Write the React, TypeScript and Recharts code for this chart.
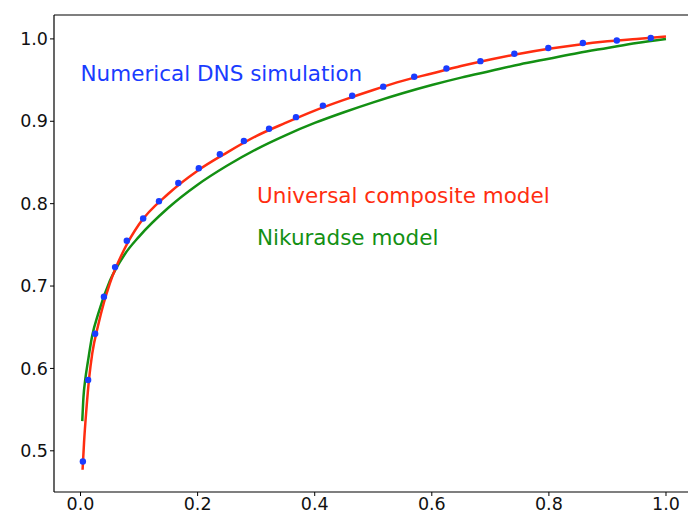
import {
  ComposedChart,
  Line,
  ReferenceDot,
  ReferenceLine,
  Scatter,
  XAxis,
  YAxis,
} from 'recharts'

// DNS samples
const dnsX = [
  0.004, 0.013, 0.025, 0.04, 0.059, 0.079, 0.107, 0.134, 0.167, 0.202, 0.238, 0.279, 0.322,
  0.368, 0.414, 0.464, 0.517, 0.57, 0.625, 0.683, 0.741, 0.799, 0.858, 0.916, 0.974,
]
const dnsY = [
  0.487, 0.586, 0.642, 0.687, 0.723, 0.755, 0.782, 0.803, 0.825, 0.843, 0.86, 0.876, 0.891,
  0.905, 0.919, 0.931, 0.942, 0.954, 0.964, 0.973, 0.982, 0.989, 0.995, 0.998, 1.001,
]

// universal composite model (red)
const compositeX = [
  0.0035, 0.006, 0.01, 0.015, 0.02, 0.03, 0.04, 0.05, 0.075, 0.1, 0.15, 0.2, 0.25, 0.3, 0.35,
  0.4, 0.45, 0.5, 0.55, 0.6, 0.65, 0.7, 0.75, 0.8, 0.85, 0.9, 0.95, 1.0,
]
const compositeY = [
  0.477, 0.51, 0.55, 0.59, 0.618, 0.652, 0.68, 0.703, 0.745, 0.775, 0.812, 0.84, 0.862, 0.882,
  0.898, 0.913, 0.926, 0.938, 0.949, 0.958, 0.967, 0.975, 0.982, 0.988, 0.993, 0.997, 1.0, 1.003,
]

// Nikuradse model (green)
const nikuradseX = [
  0.003, 0.005, 0.008, 0.013, 0.02, 0.03, 0.05, 0.075, 0.1, 0.15, 0.2, 0.25, 0.3, 0.35, 0.4,
  0.45, 0.5, 0.55, 0.6, 0.65, 0.7, 0.75, 0.8, 0.85, 0.9, 0.95, 1.0,
]
const nikuradseY = [
  0.536, 0.565, 0.586, 0.61, 0.64, 0.666, 0.706, 0.738, 0.76, 0.795, 0.823, 0.846, 0.866,
  0.883, 0.898, 0.911, 0.923, 0.934, 0.944, 0.953, 0.961, 0.969, 0.976, 0.983, 0.989, 0.995, 1.0,
]

const xTicks = [0, 0.2, 0.4, 0.6, 0.8, 1.0]
const yTicks = [0.5, 0.6, 0.7, 0.8, 0.9, 1.0]

const toPoints = (xs: number[], ys: number[]) => xs.map((x, i) => ({ x, y: ys[i] }))

const dns = toPoints(dnsX, dnsY)
const composite = toPoints(compositeX, compositeY)
const nikuradse = toPoints(nikuradseX, nikuradseY)

const font = 'DejaVu Sans, sans-serif'
const blue = '#1a3cff'
const red = '#ff2d10'
const green = '#139013'
const yMax = 1.029

const axisTick = { fill: '#111', fontSize: 17.5, fontFamily: font }

const Dot = (props: any) => <circle cx={props.cx} cy={props.cy} fill={blue} r={3.2} />

export default function App() {
  return (
    <div style={{ left: 0, position: 'absolute', top: 0 }}>
      <ComposedChart height={520} margin={{ bottom: 0, left: 0, right: 0, top: 15 }} width={688}>
        <XAxis
          allowDataOverflow
          axisLine={{ stroke: '#000', strokeWidth: 1.2 }}
          dataKey="x"
          domain={[-0.0453, 1.0376]}
          height={28}
          tick={axisTick}
          tickFormatter={(v: number) => v.toFixed(1)}
          tickLine={{ stroke: '#000' }}
          tickSize={4}
          ticks={xTicks}
          type="number"
        />
        <YAxis
          allowDataOverflow
          axisLine={{ stroke: '#000', strokeWidth: 1.2 }}
          domain={[0.45, yMax]}
          tick={axisTick}
          tickFormatter={(v: number) => v.toFixed(1)}
          tickLine={{ stroke: '#000' }}
          tickSize={4}
          ticks={yTicks}
          type="number"
          width={54}
        />
        <ReferenceLine stroke="#000" strokeWidth={1.2} y={yMax} />
        <Line
          data={nikuradse}
          dataKey="y"
          dot={false}
          isAnimationActive={false}
          stroke={green}
          strokeWidth={2.5}
          type="monotone"
        />
        <Line
          data={composite}
          dataKey="y"
          dot={false}
          isAnimationActive={false}
          stroke={red}
          strokeWidth={2.5}
          type="monotone"
        />
        <Scatter data={dns} dataKey="y" isAnimationActive={false} shape={Dot} />
        <ReferenceDot
          fill="none"
          label={{ fill: blue, fontFamily: font, fontSize: 21.5, offset: 0, position: 'right', value: 'Numerical DNS simulation' }}
          r={0}
          stroke="none"
          x={0}
          y={0.9587}
        />
        <ReferenceDot
          fill="none"
          label={{ fill: red, fontFamily: font, fontSize: 21.5, offset: 0, position: 'right', value: 'Universal composite model' }}
          r={0}
          stroke="none"
          x={0.3015}
          y={0.8095}
        />
        <ReferenceDot
          fill="none"
          label={{ fill: green, fontFamily: font, fontSize: 21.5, offset: 0, position: 'right', value: 'Nikuradse model' }}
          r={0}
          stroke="none"
          x={0.3015}
          y={0.7585}
        />
      </ComposedChart>
    </div>
  )
}
